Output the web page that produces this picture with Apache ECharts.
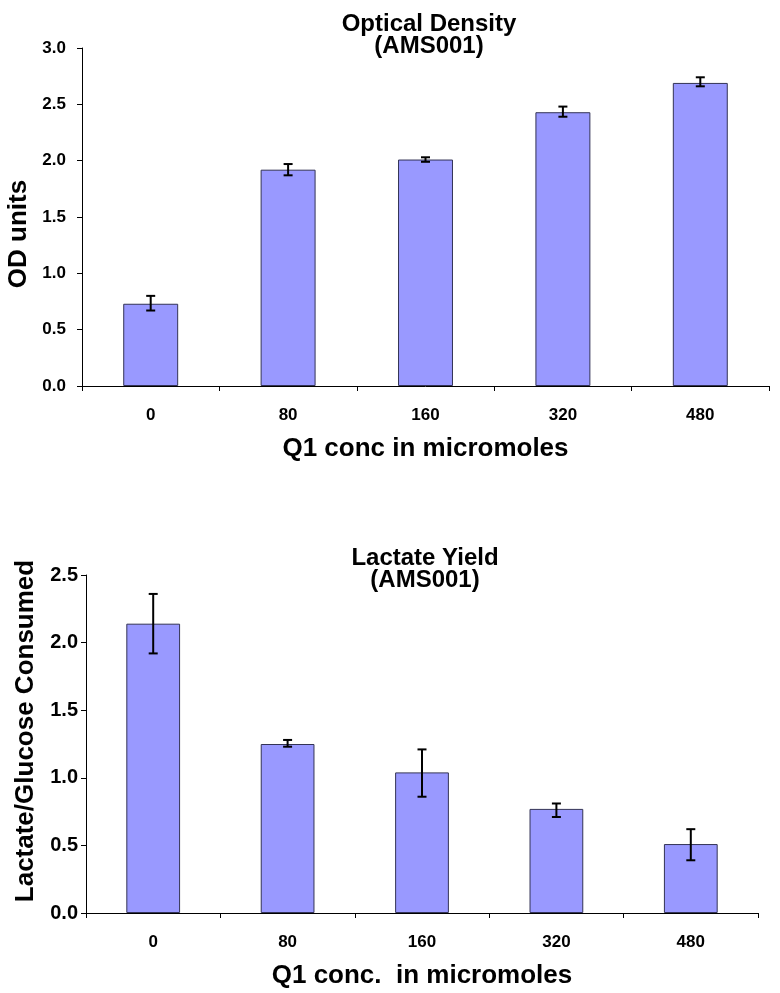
<!DOCTYPE html>
<html>
<head>
<meta charset="utf-8">
<script src="https://cdn.jsdelivr.net/npm/echarts@6/dist/echarts.min.js"></script>
<style>
  html, body { margin: 0; padding: 0; background: #fff; }
  #chart { width: 780px; height: 993px; }
</style>
</head>
<body>
<div id="chart"></div>
<script>
// x categories (same for both panels)
const concLabels = ['0', '80', '160', '320', '480'];

// top panel: optical density
const odMean = [0.73, 1.92, 2.01, 2.43, 2.69];
const odLow  = [0.67, 1.87, 1.99, 2.39, 2.66];
const odHigh = [0.80, 1.97, 2.03, 2.48, 2.74];

// bottom panel: lactate yield
const lyMean = [2.14, 1.25, 1.04, 0.77, 0.51];
const lyLow  = [1.92, 1.23, 0.86, 0.71, 0.39];
const lyHigh = [2.36, 1.28, 1.21, 0.81, 0.62];

const FONT = 'Arial, "Liberation Sans", sans-serif';
const BAR_COLOR = '#9999FF';

function errorData(low, high) {
    return low.map((v, i) => [i, v, high[i]]);
}

function renderError(params, api) {
    const x = api.value(0);
    const lo = api.coord([x, api.value(1)]);
    const hi = api.coord([x, api.value(2)]);
    const cap = 4.5;
    const style = { stroke: '#000', lineWidth: 2 };
    return {
        type: 'group',
        children: [
            { type: 'line', shape: { x1: hi[0], y1: hi[1], x2: lo[0], y2: lo[1] }, style },
            { type: 'line', shape: { x1: hi[0] - cap, y1: hi[1], x2: hi[0] + cap, y2: hi[1] }, style },
            { type: 'line', shape: { x1: lo[0] - cap, y1: lo[1], x2: lo[0] + cap, y2: lo[1] }, style }
        ]
    };
}

function xAxisCfg(gridIndex, name) {
    return {
        type: 'category',
        gridIndex,
        data: concLabels,
        name,
        nameLocation: 'middle',
        nameGap: 50,
        nameTextStyle: { fontFamily: FONT, fontWeight: 'bold', fontSize: 26, color: '#000' },
        axisLine: { lineStyle: { color: '#000', width: 1 } },
        axisTick: { show: true, length: 5, lineStyle: { color: '#000' } },
        axisLabel: { margin: 21, fontFamily: FONT, fontWeight: 'bold', fontSize: 17, color: '#000' },
        splitLine: { show: false }
    };
}

function yAxisCfg(gridIndex, name, max, nameGap, namePad, labelSize, labelMargin) {
    return {
        type: 'value',
        gridIndex,
        min: 0,
        max,
        interval: 0.5,
        name,
        nameLocation: 'middle',
        nameGap,
        nameTextStyle: { fontFamily: FONT, fontWeight: 'bold', fontSize: 26, color: '#000', padding: namePad },
        axisLine: { show: true, lineStyle: { color: '#000', width: 1 } },
        axisTick: { show: true, length: 5, lineStyle: { color: '#000' } },
        axisLabel: {
            margin: labelMargin,
            fontFamily: FONT, fontWeight: 'bold', fontSize: labelSize, color: '#000',
            formatter: v => v.toFixed(1)
        },
        splitLine: { show: false }
    };
}

const chart = echarts.init(document.getElementById('chart'));

chart.setOption({
    backgroundColor: '#fff',
    animation: false,
    title: [
        {
            text: 'Optical Density\n(AMS001)',
            left: 424,
            top: 8,
            textAlign: 'center',
            textStyle: { fontFamily: FONT, fontWeight: 'bold', fontSize: 24, lineHeight: 22, color: '#000' }
        },
        {
            text: 'Lactate Yield\n(AMS001)',
            left: 420,
            top: 542,
            textAlign: 'center',
            textStyle: { fontFamily: FONT, fontWeight: 'bold', fontSize: 24, lineHeight: 22, color: '#000' }
        }
    ],
    grid: [
        { left: 82, top: 48, width: 687, height: 338, containLabel: false, outerBoundsMode: 'none' },
        { left: 86, top: 575, width: 672, height: 338, containLabel: false, outerBoundsMode: 'none' }
    ],
    xAxis: [
        xAxisCfg(0, 'Q1 conc in micromoles'),
        xAxisCfg(1, 'Q1 conc.  in micromoles')
    ],
    yAxis: [
        yAxisCfg(0, 'OD units', 3.0, 47, [0, 34, 0, 0], 17, 16),
        yAxisCfg(1, 'Lactate/Glucose Consumed', 2.5, 46, [0, 0, 0, 26], 20, 8)
    ],
    series: [
        {
            type: 'bar',
            xAxisIndex: 0,
            yAxisIndex: 0,
            data: odMean,
            barWidth: '40%',
            itemStyle: { color: BAR_COLOR, borderColor: '#333355', borderWidth: 1 }
        },
        {
            type: 'custom',
            xAxisIndex: 0,
            yAxisIndex: 0,
            data: errorData(odLow, odHigh),
            encode: { x: 0, y: [1, 2] },
            renderItem: renderError,
            z: 10
        },
        {
            type: 'bar',
            xAxisIndex: 1,
            yAxisIndex: 1,
            data: lyMean,
            barWidth: '40%',
            itemStyle: { color: BAR_COLOR, borderColor: '#333355', borderWidth: 1 }
        },
        {
            type: 'custom',
            xAxisIndex: 1,
            yAxisIndex: 1,
            data: errorData(lyLow, lyHigh),
            encode: { x: 0, y: [1, 2] },
            renderItem: renderError,
            z: 10
        }
    ]
});

window.addEventListener('resize', () => chart.resize());
</script>
</body>
</html>
